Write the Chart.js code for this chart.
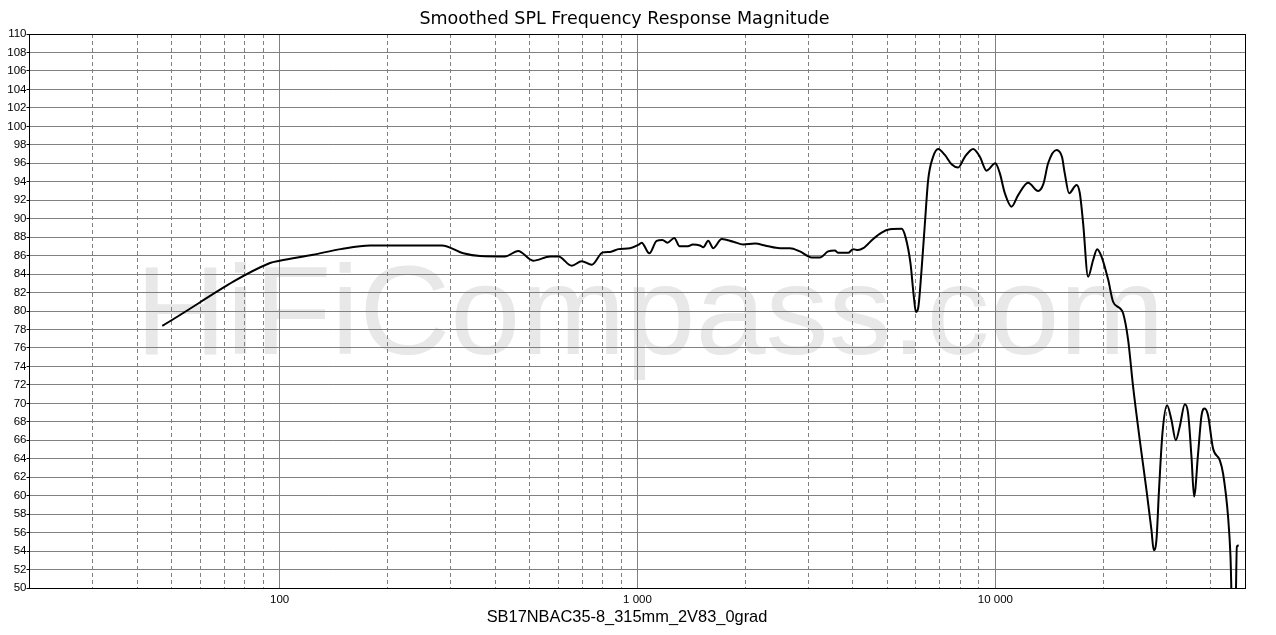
<!DOCTYPE html>
<html><head><meta charset="utf-8">
<script src="https://cdn.jsdelivr.net/npm/chart.js@4.4.1/dist/chart.umd.min.js"></script>
<style>html,body{margin:0;padding:0;background:#fff}#wrap{width:1276px;height:635px;position:relative}</style>
</head><body><div id="wrap"><canvas id="c" width="1276" height="635"></canvas></div>
<script>
const chartTitle = 'Smoothed SPL Frequency Response Magnitude';
const xAxisTitle = 'SB17NBAC35-8_315mm_2V83_0grad';
const watermarkText = 'HiFiCompass.com';

const freqHz = [47,94,100,124,148,179,284,326,363,426,464,511,570,601,655,698,745,800,838,884,953,1005,1027,1079,1131,1174,1212,1267,1311,1383,1428,1494,1527,1576,1628,1719,1853,1974,2129,2296,2500,2667,2844,3066,3234,3410,3562,3632,3878,4005,4130,4273,4556,4809,5075,5469,5610,5790,5918,5996,6084,6218,6355,6490,6699,6920,7225,7543,7870,8220,8670,9050,9450,10000,10293,10630,11095,11580,12345,13165,13630,14040,14820,15350,15630,16070,16860,17220,17590,18160,18750,19250,19800,20660,21330,22270,22750,23490,24260,25330,26440,27300,27700,28190,28660,29300,30180,31050,31920,32760,33850,34560,35320,35920,36860,37680,38460,39290,40580,42370,43280,44700,45400,46000,46800,47300,47870];
const splDb = [78.4,85.2,85.45,86.1,86.7,87.1,87.1,86.25,85.95,85.9,86.5,85.45,85.9,85.9,84.9,85.4,85.0,86.35,86.4,86.7,86.8,87.15,87.4,86.25,87.6,87.7,87.4,87.9,87.0,87.0,87.2,87.1,86.9,87.6,86.8,87.8,87.5,87.2,87.3,87.05,86.8,86.8,86.45,85.8,85.8,86.45,86.55,86.3,86.3,86.7,86.6,86.8,87.8,88.5,88.85,88.9,88.0,85.2,81.55,79.9,80.3,84.4,89.5,94.2,96.7,97.55,96.9,95.9,95.55,96.7,97.55,96.7,95.2,96.0,94.9,92.75,91.3,92.55,93.9,93.0,93.8,96.0,97.45,96.7,94.9,92.75,93.65,92.75,89.5,83.7,85.5,86.7,85.9,83.4,81.0,80.3,79.75,76.9,71.8,66.0,60.6,56.3,54.1,55.2,60.6,66.75,69.8,68.2,66.0,67.5,69.9,68.9,64.2,59.9,64.6,68.7,69.45,68.7,65.1,63.85,62.4,57.7,53.4,46,46,54.5,54.6];

const xGridValues = [20,30,40,50,60,70,80,90,100,200,300,400,500,600,700,800,900,1000,2000,3000,4000,5000,6000,7000,8000,9000,10000,20000,30000,40000,50000];
const xLabelValues = [100,1000,10000];
const xLabelTexts = ['100','1 000','10 000'];
const yMin = 50, yMax = 110, yStep = 2;
const xMin = 20, xMax = 50000;

const points = freqHz.map((f,i)=>({x:f,y:splDb[i]}));
const isDecade = v => Math.abs(Math.log10(v) - Math.round(Math.log10(v))) < 1e-9;

const decor = {
  id:'decor',
  beforeDraw(chart){
    const ctx = chart.ctx;
    ctx.save();
    ctx.fillStyle = '#fff';
    ctx.fillRect(0,0,chart.width,chart.height);
    ctx.font = '126px "Liberation Sans", Arial, sans-serif';
    ctx.fillStyle = '#e8e8e8';
    ctx.textAlign = 'center';
    ctx.textBaseline = 'alphabetic';
    ctx.fillText(watermarkText, 650, 354);
    ctx.restore();
  },
  afterDraw(chart){
    const ctx = chart.ctx, a = chart.chartArea;
    ctx.save();
    ctx.strokeStyle = '#000';
    ctx.lineWidth = 1;
    const l = Math.floor(a.left)+0.5, t = Math.floor(a.top)+0.5, r = Math.floor(a.right)+0.5, b = Math.floor(a.bottom)+0.5;
    ctx.strokeRect(l, t, r-l, b-t);
    ctx.fillStyle = '#000';
    ctx.textAlign = 'center';
    ctx.textBaseline = 'middle';
    ctx.font = '17.5px "DejaVu Sans", sans-serif';
    ctx.fillText(chartTitle, 624.5, 19);
    ctx.font = '16.4px "Liberation Sans", Arial, sans-serif';
    ctx.fillText(xAxisTitle, 627, 617);
    ctx.restore();
  }
};

new Chart(document.getElementById('c'), {
  type:'line',
  data:{datasets:[{data:points,borderColor:'#000',borderWidth:2,pointRadius:0,fill:false,cubicInterpolationMode:'monotone',clip:0}]},
  options:{
    responsive:false,animation:false,devicePixelRatio:1,
    layout:{padding:{left:0,top:34,right:30.5,bottom:0}},
    plugins:{legend:{display:false},title:{display:false},tooltip:{enabled:false}},
    scales:{
      x:{
        type:'logarithmic',min:xMin,max:xMax,
        afterBuildTicks(scale){ scale.ticks = xGridValues.map(v=>({value:v})); },
        afterFit(scale){ scale.height = 47; },
        ticks:{autoSkip:false,maxRotation:0,minRotation:0,padding:5,color:'#000',
          font:{family:'"Liberation Sans", Arial, sans-serif',size:11.5},
          callback(v){ const i = xLabelValues.indexOf(v); return i>=0 ? xLabelTexts[i] : ''; }},
        grid:{color:'#808080',lineWidth:1,drawTicks:false,tickLength:0},
        border:{display:false,dash:(ctx)=> (ctx.tick && isDecade(ctx.tick.value)) ? [] : [4,3]}
      },
      y:{
        type:'linear',min:yMin,max:yMax,
        afterFit(scale){ scale.width = 29.5; },
        ticks:{stepSize:yStep,autoSkip:false,padding:0,color:'#000',
          font:{family:'"Liberation Sans", Arial, sans-serif',size:11.5}},
        grid:{color:'#808080',lineWidth:1,drawTicks:true,tickLength:3,tickColor:'#000'},
        border:{display:false}
      }
    }
  },
  plugins:[decor]
});
</script></body></html>
